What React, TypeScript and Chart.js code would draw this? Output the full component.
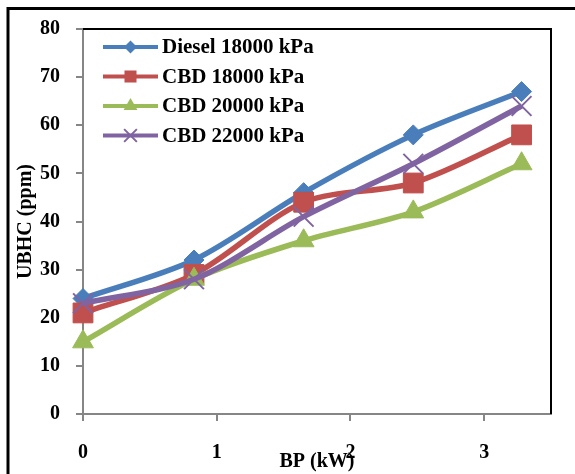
import React, { useEffect, useRef } from 'react';
import { Chart, registerables } from 'chart.js';

Chart.register(...registerables);

// ---- data ----
const bpValues = [0, 0.83, 1.65, 2.47, 3.28];
const seriesNames = ['Diesel 18000 kPa', 'CBD 18000 kPa', 'CBD 20000 kPa', 'CBD 22000 kPa'];
const dieselValues = [24, 32, 46, 58, 67];
const cbd18000Values = [21, 29, 44, 48, 58];
const cbd20000Values = [15, 28, 36, 42, 52];
const cbd22000Values = [23, 28, 41, 52, 64];
const xTickValues = [0, 1, 2, 3];
const yTickMax = 80;
const xAxisMax = 3.5;
const xTitle = 'BP (kW)';
const yTitle = 'UBHC (ppm)';

const colors = ['#4A7EBB', '#C0504D', '#9BBB59', '#8064A2'];
const pointStyles = ['rectRot', 'rect', 'triangle', 'crossRot'];
const pointRadii = [10, 14, 12, 14];
const legendRadii = [6.5, 8.5, 8, 9];

const FONT = '"Liberation Serif", "Times New Roman", serif';

function drawMarker(ctx: CanvasRenderingContext2D, style: string, x: number, y: number, r: number, color: string) {
  ctx.save();
  ctx.fillStyle = color;
  ctx.strokeStyle = color;
  ctx.beginPath();
  if (style === 'rectRot') {
    ctx.moveTo(x, y - r);
    ctx.lineTo(x + r, y);
    ctx.lineTo(x, y + r);
    ctx.lineTo(x - r, y);
    ctx.closePath();
    ctx.fill();
  } else if (style === 'rect') {
    const s = r * Math.SQRT1_2;
    ctx.rect(x - s, y - s, 2 * s, 2 * s);
    ctx.fill();
  } else if (style === 'triangle') {
    const h = r * 0.866;
    ctx.moveTo(x, y - r);
    ctx.lineTo(x + h, y + r / 2);
    ctx.lineTo(x - h, y + r / 2);
    ctx.closePath();
    ctx.fill();
  } else {
    const s = r * Math.SQRT1_2;
    ctx.lineWidth = 2;
    ctx.moveTo(x - s, y - s);
    ctx.lineTo(x + s, y + s);
    ctx.moveTo(x + s, y - s);
    ctx.lineTo(x - s, y + s);
    ctx.stroke();
  }
  ctx.restore();
}

const framePlugin = {
  id: 'framePlugin',
  beforeDraw(chart: any) {
    const ctx = chart.ctx as CanvasRenderingContext2D;
    ctx.save();
    ctx.fillStyle = '#fff';
    ctx.fillRect(0, 0, chart.width, chart.height);
    ctx.restore();
  },
  afterDraw(chart: any) {
    const ctx = chart.ctx as CanvasRenderingContext2D;
    const { left, top, right, bottom } = chart.chartArea;
    ctx.save();
    // outer frame (left + top)
    ctx.strokeStyle = '#000';
    ctx.lineWidth = 3;
    ctx.beginPath();
    ctx.moveTo(8, chart.height + 5);
    ctx.lineTo(8, 8.5);
    ctx.lineTo(chart.width + 5, 8.5);
    ctx.stroke();
    // plot area top + right border
    ctx.lineWidth = 2;
    ctx.beginPath();
    ctx.moveTo(left, top);
    ctx.lineTo(right, top);
    ctx.lineTo(right, bottom);
    ctx.stroke();

    // legend
    const lx0 = 103;
    const lx1 = 158;
    const ly0 = 47;
    const dy = 29.5;
    chart.data.datasets.forEach((ds: any, i: number) => {
      const y = ly0 + i * dy;
      ctx.strokeStyle = colors[i];
      ctx.lineWidth = 4;
      ctx.beginPath();
      ctx.moveTo(lx0, y);
      ctx.lineTo(lx1, y);
      ctx.stroke();
      drawMarker(ctx, pointStyles[i], (lx0 + lx1) / 2, y, legendRadii[i], colors[i]);
      ctx.fillStyle = '#000';
      ctx.font = 'bold 21px ' + FONT;
      ctx.textBaseline = 'middle';
      ctx.textAlign = 'left';
      ctx.fillText(ds.label, 162, y + 1);
    });
    ctx.restore();
  },
};

export default function App() {
  const canvasRef = useRef<HTMLCanvasElement | null>(null);

  useEffect(() => {
    const canvas = canvasRef.current;
    if (!canvas) return;
    const seriesValues = [dieselValues, cbd18000Values, cbd20000Values, cbd22000Values];
    const datasets = seriesValues.map((vals, i) => ({
      label: seriesNames[i],
      data: vals.map((v, j) => ({ x: bpValues[j], y: v })),
      borderColor: colors[i],
      backgroundColor: colors[i],
      borderWidth: 5.5,
      tension: 0.3,
      pointStyle: pointStyles[i],
      pointRadius: pointRadii[i],
      pointBackgroundColor: colors[i],
      pointBorderColor: colors[i],
      pointBorderWidth: pointStyles[i] === 'crossRot' ? 2 : 1,
      order: 4 - i,
      clip: false as any,
      fill: false,
    }));

    const tickFont = { family: FONT, size: 20, weight: 'bold' as const };

    const chart = new Chart(canvas, {
      type: 'line',
      data: { datasets },
      options: {
        animation: false,
        responsive: false,
        devicePixelRatio: 1,
        layout: { padding: { left: 0, top: 29, right: 24, bottom: 0 } },
        plugins: {
          legend: { display: false },
          tooltip: { enabled: false },
        },
        scales: {
          x: {
            type: 'linear',
            min: 0,
            max: xAxisMax,
            afterBuildTicks: (scale: any) => {
              scale.ticks = xTickValues.map((v) => ({ value: v }));
            },
            afterFit: (scale: any) => {
              scale.height = 60;
            },
            ticks: {
              font: tickFont,
              color: '#000',
              padding: 20,
              maxRotation: 0,
              callback: (v: any) => String(v),
            },
            grid: {
              drawOnChartArea: false,
              drawTicks: true,
              tickLength: 7,
              color: '#868686',
              lineWidth: 2,
            },
            border: { display: true, color: '#868686', width: 2 },
            title: {
              display: true,
              text: xTitle,
              font: tickFont,
              color: '#000',
              padding: { top: 0, bottom: 0 },
            },
          },
          y: {
            type: 'linear',
            min: 0,
            max: yTickMax,
            afterFit: (scale: any) => {
              scale.width = 83;
            },
            ticks: {
              stepSize: 10,
              font: tickFont,
              color: '#000',
              padding: 16,
            },
            grid: {
              drawOnChartArea: false,
              drawTicks: true,
              tickLength: 7,
              color: '#868686',
              lineWidth: 2,
            },
            border: { display: true, color: '#868686', width: 2 },
            title: {
              display: true,
              text: yTitle,
              font: tickFont,
              color: '#000',
              padding: { top: 14, bottom: 0 },
            },
          },
        },
      },
      plugins: [framePlugin],
    });

    return () => chart.destroy();
  }, []);

  return (
    <div style={{ position: 'absolute', left: 0, top: 0, width: 575, height: 474, background: '#fff' }}>
      <canvas ref={canvasRef} width={575} height={474} style={{ display: 'block', width: 575, height: 474 }} />
    </div>
  );
}
